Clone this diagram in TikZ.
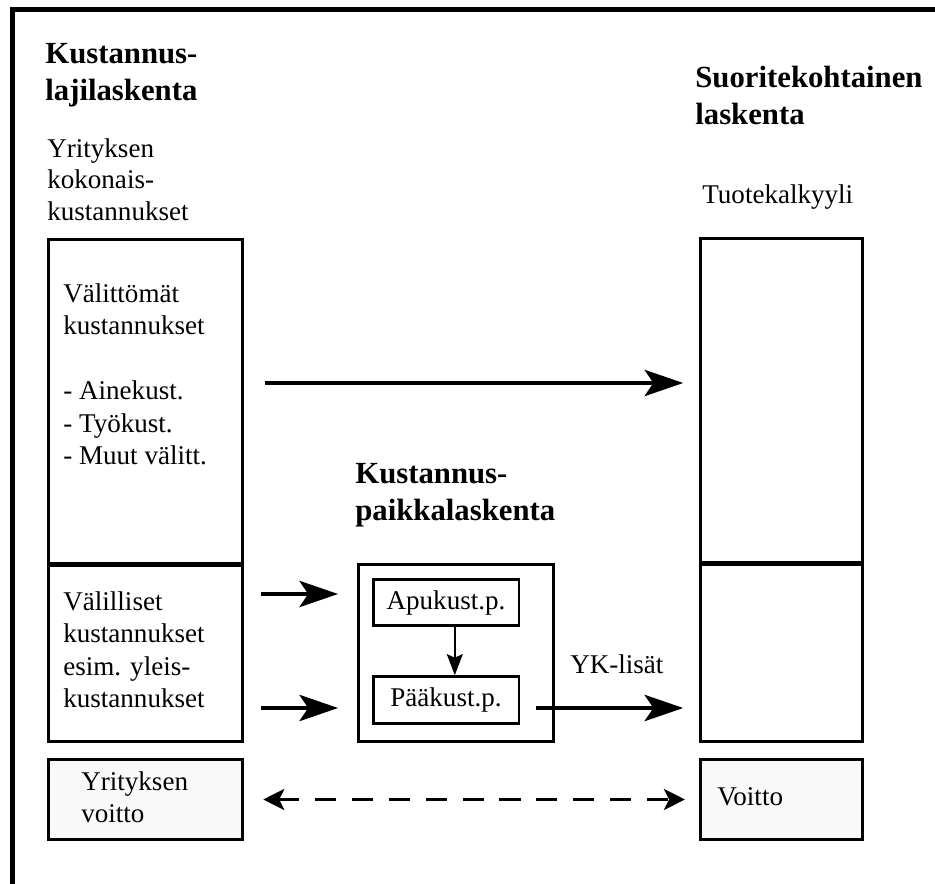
\documentclass[tikz,border=0pt]{standalone}
\usepackage{fontspec}
\setmainfont{Liberation Serif}
\usetikzlibrary{positioning, arrows.meta, calc}

\begin{document}
\begin{tikzpicture}[x=0.02cm, y=-0.02cm, font=\fontsize{15.4}{18.5}\selectfont,
  bx/.style={draw, line width=1.7pt, inner sep=0pt, anchor=north west},
  pf/.style={bx, fill=gray!5},
  sub/.style={draw, line width=1.7pt, inner sep=0pt, minimum width=2.92cm, minimum height=0.93cm},
  hd/.style={anchor=north west, inner sep=0pt, align=left, font=\fontsize{17.5}{21}\selectfont\bfseries},
  tx/.style={anchor=north west, inner sep=0pt, align=left},
  dv/.style={line width=2.6pt},
  big/.style={line width=1.8pt, -{Stealth[length=22pt, width=15pt, inset=5pt]}},
  sm/.style={line width=1.2pt, -{Stealth[length=12pt, width=9pt, inset=2pt]}},
  dsh/.style={line width=1.8pt, dash pattern=on 12pt off 9pt, {Stealth[length=12pt, width=12pt, inset=3pt]}-{Stealth[length=12pt, width=12pt, inset=3pt]}}]
  \useasboundingbox (0,0) rectangle (935,884);
  % frame
  \draw[line width=2.8pt] (12.5,884) -- (12.5,9.5) -- (935,9.5);
  % headings
  \node[hd] (hdL) at (45,43) {Kustannus-\\lajilaskenta};
  \node[hd] (hdR) at (695,66) {Suoritekohtainen\\laskenta};
  \node[hd] (hdM) at (355,463) {Kustannus-\\paikkalaskenta};
  \node[tx, font=\fontsize{15.4}{18}\selectfont] (totL) at (47,138) {Yrityksen\\kokonais-\\kustannukset};
  \node[tx] (prodT) at (702,184) {Tuotekalkyyli};
  % left column
  \node[bx, minimum width=3.88cm, minimum height=6.48cm] (dirL) at (47,238) {};
  \node[bx, minimum width=3.88cm, minimum height=3.56cm] (indL) at (47,562) {};
  \node[pf, minimum width=3.88cm, minimum height=1.6cm] (profL) at (47,758) {};
  \draw[dv] (dirL.south west) -- (dirL.south east);
  \node[tx] (dirT) at (63,283) {Välittömät\\kustannukset\\[18.5pt]- Ainekust.\\- Työkust.\\- Muut välitt.};
  \node[tx] (indT) at (63,591) {Välilliset\\kustannukset\\esim. yleis-\\kustannukset};
  \node[tx] (profLT) at (81,771) {Yrityksen\\voitto};
  % right column
  \node[bx, minimum width=3.24cm, minimum height=6.48cm] (prodA) at (699,237) {};
  \node[bx, minimum width=3.24cm, minimum height=3.58cm] (prodB) at (699,561) {};
  \node[pf, minimum width=3.24cm, minimum height=1.6cm] (profR) at (699,758) {};
  \draw[dv] (prodA.south west) -- (prodA.south east);
  \node[tx] (profRT) at (717,787) {Voitto};
  % middle
  \node[bx, minimum width=3.9cm, minimum height=3.54cm] (mid) at (357,563) {};
  \node[sub] (apu) at (446,602.5) {Apukust.p.};
  \node[sub] (paa) at (446,700) {Pääkust.p.};
  % connectors
  \draw[big, shorten <=11.9pt, shorten >=9pt] (dirL.east |- 0,383) -- (prodA.west |- 0,383);
  \draw[big, shorten <=9.6pt, shorten >=10.8pt] (indL.east |- 0,594) -- (mid.west |- 0,594);
  \draw[big, shorten <=9.6pt, shorten >=10.8pt] (indL.east |- 0,708) -- (mid.west |- 0,708);
  \draw[sm] ([xshift=5pt]apu.south) -- ([xshift=5pt]paa.north);
  \draw[big, shorten <=9pt, shorten >=9pt] (paa.east |- 0,708) -- node[pos=0.54, above=18.5pt, inner sep=0pt] (yk) {YK-lisät} (prodB.west |- 0,708);
  \draw[dsh, shorten <=11pt, shorten >=8pt] (profL.east) -- (profR.west);
\end{tikzpicture}
\end{document}
